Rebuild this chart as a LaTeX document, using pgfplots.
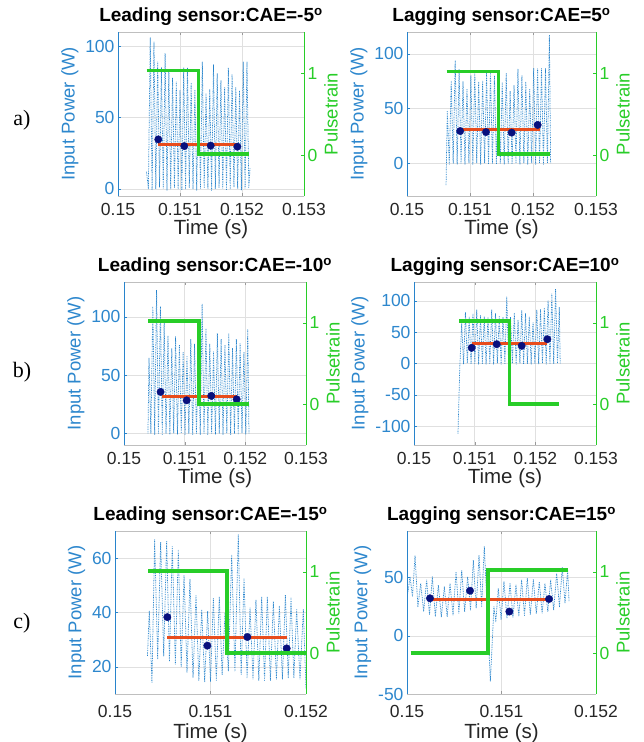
\documentclass[border=0pt]{standalone}
\usepackage{pgfplots}
\pgfplotsset{compat=1.18}
\usepackage{fontspec}
\setmainfont{Liberation Sans}
\newfontfamily\seriffont{Liberation Serif}
\definecolor{mblue}{RGB}{40,132,204}
\definecolor{mtick}{RGB}{45,135,205}
\definecolor{mgreen}{RGB}{40,205,40}
\definecolor{mred}{RGB}{232,76,28}
\definecolor{mnavy}{RGB}{8,16,125}
\definecolor{mgray}{RGB}{38,38,38}
\pgfplotsset{
  mybase/.style={
    scale only axis,
    /pgf/number format/assume math mode=true,
    tick label style={font=\fontsize{17.5}{19}\selectfont},
    ylabel style={font=\fontsize{18.5}{20}\selectfont},
    xlabel style={font=\fontsize{20.5}{22}\selectfont},
    tick align=inside, major tick length=3pt,
    scaled x ticks=false, scaled y ticks=false,
  },
  leftax/.style={mybase,
    axis y line*=left, axis x line*=box,
    x axis line style={draw=black!25},
    y axis line style={draw=mblue},
    ytick style={draw=mblue}, xtick style={draw=black!40},
    yticklabel style={text=mtick},
    xticklabel style={text=mgray, yshift=-4pt},
    ylabel style={text=mtick},
    xlabel style={text=mgray, yshift=3pt},
    ylabel={Input Power (W)}, xlabel={Time (s)},
    grid=major, major grid style={draw=black!12, line width=0.4pt},
    title style={font=\bfseries\fontsize{19}{21}\selectfont, text=black, yshift=-3pt},
  },
  rowc/.style={xticklabel style={yshift=-4pt}, xlabel style={yshift=-2pt}},
  rightax/.style={mybase,
    axis y line*=right, hide x axis,
    y axis line style={draw=mgreen},
    ytick style={draw=mgreen},
    yticklabel style={text=mgreen},
    ylabel style={text=mgreen},
    ylabel={Pulsetrain},
    ymin=-0.5, ymax=1.5, ytick={0,1},
  },
  sig/.style={color=mblue, dash pattern=on 0.8pt off 0.9pt, line width=0.75pt, line join=round, no marks},
  avg/.style={color=mred, line width=3pt, no marks},
  pts/.style={only marks, mark=*, mark size=3.7pt, color=mnavy},
  pulse/.style={color=mgreen, line width=3.6pt, no marks, line join=miter},
  xA/.style={xmin=0.15, xmax=0.153, xtick={0.15,0.151,0.152,0.153}, xticklabels={0.15,0.151,0.152,0.153}},
  xC/.style={xmin=0.15, xmax=0.152, xtick={0.15,0.151,0.152}, xticklabels={0.15,0.151,0.152}},
}
\begin{document}
\begin{tikzpicture}
\useasboundingbox (0,0) rectangle (643pt,-742pt);
\node[font=\seriffont\fontsize{22}{24}\selectfont] at (22pt,-120pt) {a)};
\node[font=\seriffont\fontsize{22}{24}\selectfont] at (22pt,-372pt) {b)};
\node[font=\seriffont\fontsize{22}{24}\selectfont] at (22pt,-623pt) {c)};

% ---------- a-left
\begin{axis}[leftax, xA, at={(118pt,-196pt)}, anchor=south west, width=186pt, height=164pt,
  ymin=-5, ymax=110, ytick={0,50,100},
  title={Leading sensor:CAE=-5\textsuperscript{o}}]
\addplot[sig] coordinates {(0.15046,12) (0.15049,0) (0.15052,106) (0.15055,-1) (0.15058,103) (0.15061,0) (0.15064,89) (0.15067,1) (0.15070,85) (0.15073,0) (0.15076,95) (0.15079,-1) (0.15082,83) (0.15085,0) (0.15088,78) (0.15091,1) (0.15094,75) (0.15097,0) (0.15100,69) (0.15103,-1) (0.15106,85) (0.15109,0) (0.15112,85) (0.15115,1) (0.15118,74) (0.15121,0) (0.15124,69) (0.15127,-1) (0.15130,81) (0.15133,0) (0.15136,89) (0.15139,1) (0.15142,67) (0.15145,0) (0.15148,70) (0.15151,-1) (0.15154,87) (0.15157,0) (0.15160,81) (0.15163,1) (0.15166,76) (0.15169,0) (0.15172,71) (0.15175,-1) (0.15178,85) (0.15181,0) (0.15184,80) (0.15187,1) (0.15190,71) (0.15193,0) (0.15196,69) (0.15199,-1) (0.15202,89) (0.15205,0) (0.15208,89) (0.15211,1) (0.15213,15)};
\addplot[avg] coordinates {(0.150645,31.3) (0.151914,31.3)};
\addplot[pts] coordinates {(0.15065,34.7) (0.151069,30) (0.151495,30.3) (0.151925,29.6)};
\end{axis}
\begin{axis}[rightax, xA, at={(118pt,-196pt)}, anchor=south west, width=186pt, height=164pt]
\addplot[pulse] coordinates {(0.15046,1.03) (0.1513,1.03) (0.1513,0.01) (0.15212,0.01)};
\end{axis}

% ---------- a-right
\begin{axis}[leftax, xA, at={(407pt,-196pt)}, anchor=south west, width=189pt, height=164pt,
  ymin=-30, ymax=120, ytick={0,50,100},
  title={Lagging sensor:CAE=5\textsuperscript{o}}]
\addplot[sig] coordinates {(0.150620,-20) (0.150640,48) (0.150671,-1) (0.150702,75) (0.150733,0) (0.150765,94) (0.150796,-1) (0.150827,86) (0.150858,0) (0.150889,75) (0.150920,-1) (0.150952,68) (0.150983,0) (0.151014,80) (0.151045,-1) (0.151076,83) (0.151107,0) (0.151138,74) (0.151169,-1) (0.151201,75) (0.151232,0) (0.151263,82) (0.151294,-1) (0.151325,83) (0.151356,0) (0.151388,80) (0.151419,-1) (0.151450,69) (0.151481,0) (0.151512,74) (0.151543,-1) (0.151575,82) (0.151606,0) (0.151637,66) (0.151668,-1) (0.151699,71) (0.151730,0) (0.151761,86) (0.151792,-1) (0.151824,80) (0.151855,0) (0.151886,74) (0.151917,-1) (0.151948,68) (0.151979,0) (0.152011,87) (0.152042,-1) (0.152073,87) (0.152104,0) (0.152135,87) (0.152166,-1) (0.152198,87) (0.152229,0) (0.152260,117) (0.152280,0)};
\addplot[avg] coordinates {(0.150841,30.6) (0.15211,30.6)};
\addplot[pts] coordinates {(0.150844,29.4) (0.151254,28.5) (0.151661,28) (0.152074,35)};
\end{axis}
\begin{axis}[rightax, xA, at={(407pt,-196pt)}, anchor=south west, width=189pt, height=164pt]
\addplot[pulse] coordinates {(0.15063,1.02) (0.15145,1.02) (0.15145,0.01) (0.15227,0.01)};
\end{axis}

% ---------- b-left
\begin{axis}[leftax, xA, at={(124pt,-445pt)}, anchor=south west, width=182pt, height=163pt,
  ymin=-10, ymax=130, ytick={0,50,100},
  title={Leading sensor:CAE=-10\textsuperscript{o}}]
\addplot[sig] coordinates {(0.150395,0) (0.150412,65) (0.150443,0) (0.150475,109) (0.150506,-1) (0.150537,123) (0.150568,0) (0.150600,109) (0.150631,-1) (0.150662,95) (0.150693,0) (0.150725,84) (0.150756,-1) (0.150788,73) (0.150819,0) (0.150850,83) (0.150881,-1) (0.150913,76) (0.150944,0) (0.150975,70) (0.151006,-1) (0.151038,66) (0.151069,0) (0.151101,81) (0.151132,-1) (0.151163,77) (0.151194,0) (0.151226,66) (0.151257,-1) (0.151288,111) (0.151319,0) (0.151351,90) (0.151382,-1) (0.151414,77) (0.151445,0) (0.151476,70) (0.151507,-1) (0.151539,86) (0.151570,0) (0.151601,81) (0.151632,-1) (0.151664,76) (0.151695,0) (0.151727,86) (0.151758,-1) (0.151789,73) (0.151820,0) (0.151852,81) (0.151883,-1) (0.151914,77) (0.151945,0) (0.151977,70) (0.152008,-1) (0.152040,89) (0.152060,0)};
\addplot[avg] coordinates {(0.150621,31.3) (0.151857,31.3)};
\addplot[pts] coordinates {(0.150603,35.6) (0.151033,28.4) (0.151439,32.2) (0.151857,29.3)};
\end{axis}
\begin{axis}[rightax, xA, at={(124pt,-445pt)}, anchor=south west, width=182pt, height=163pt]
\addplot[pulse] coordinates {(0.1504,1.02) (0.15124,1.02) (0.15124,0) (0.152065,0)};
\end{axis}

% ---------- b-right
\begin{axis}[leftax, xA, at={(414pt,-445pt)}, anchor=south west, width=182pt, height=163pt,
  ymin=-130, ymax=130, ytick={-100,-50,0,50,100},
  title={Lagging sensor:CAE=10\textsuperscript{o}}]
\addplot[sig] coordinates {(0.150725,-112) (0.150755,-5) (0.150786,64) (0.150817,-1) (0.150848,82) (0.150879,0) (0.150910,74) (0.150941,-1) (0.150972,80) (0.151003,0) (0.151034,86) (0.151065,-1) (0.151096,77) (0.151127,0) (0.151157,75) (0.151188,-1) (0.151219,73) (0.151250,0) (0.151281,86) (0.151312,-1) (0.151343,80) (0.151374,0) (0.151405,75) (0.151436,-1) (0.151467,74) (0.151498,0) (0.151529,106) (0.151560,-1) (0.151591,74) (0.151622,0) (0.151653,80) (0.151684,-1) (0.151715,69) (0.151746,0) (0.151776,85) (0.151807,-1) (0.151838,80) (0.151869,0) (0.151900,74) (0.151931,-1) (0.151962,66) (0.151993,0) (0.152024,86) (0.152055,-1) (0.152086,86) (0.152117,0) (0.152148,88) (0.152179,-1) (0.152210,100) (0.152241,0) (0.152272,111) (0.152303,-1) (0.152334,119) (0.152365,0) (0.152395,90) (0.152410,0)};
\addplot[avg] coordinates {(0.150951,31.4) (0.152187,31.4)};
\addplot[pts] coordinates {(0.150951,25) (0.151363,30.8) (0.151775,28.2) (0.152198,38.8)};
\end{axis}
\begin{axis}[rightax, xA, at={(414pt,-445pt)}, anchor=south west, width=182pt, height=163pt]
\addplot[pulse] coordinates {(0.150747,1.02) (0.151571,1.02) (0.151571,0) (0.15239,0)};
\end{axis}

% ---------- c-left
\begin{axis}[leftax, rowc, xC, at={(115pt,-694pt)}, anchor=south west, width=191pt, height=163pt,
  ymin=10, ymax=70, ytick={20,40,60},
  title={Leading sensor:CAE=-15\textsuperscript{o}}]
\addplot[sig] coordinates {(0.150340,24) (0.150359,40.5) (0.150387,14) (0.150415,66.8) (0.150447,23) (0.150478,66) (0.150510,24) (0.150541,66.4) (0.150570,22) (0.150600,64.5) (0.150632,21) (0.150663,62.9) (0.150693,20) (0.150723,53.8) (0.150754,18) (0.150785,52.3) (0.150817,16) (0.150848,46.5) (0.150878,15) (0.150908,41.1) (0.150939,14.5) (0.150970,40.5) (0.151000,14.5) (0.151030,45.3) (0.151061,15) (0.151092,45.9) (0.151122,17) (0.151152,40) (0.151187,18.5) (0.151222,61.1) (0.151256,18.5) (0.151291,68.6) (0.151321,17) (0.151351,52.6) (0.151383,16) (0.151414,41.7) (0.151445,15.5) (0.151476,44.7) (0.151506,15) (0.151536,45.9) (0.151566,15) (0.151595,45.9) (0.151627,15) (0.151658,44.1) (0.151690,15.5) (0.151721,42.3) (0.151753,15.5) (0.151784,46.5) (0.151814,16) (0.151843,45.3) (0.151873,16) (0.151902,41.1) (0.151937,15.5) (0.151972,41.1) (0.152000,12)};
\addplot[avg] coordinates {(0.150548,30.8) (0.151798,30.8)};
\addplot[pts] coordinates {(0.150548,38.3) (0.150967,27.8) (0.151386,31.0) (0.151798,26.8)};
\end{axis}
\begin{axis}[rightax, xC, at={(115pt,-694pt)}, anchor=south west, width=191pt, height=163pt]
\addplot[pulse] coordinates {(0.150349,1.01) (0.15117,1.01) (0.15117,0) (0.152,0)};
\end{axis}

% ---------- c-right
\begin{axis}[leftax, rowc, xC, at={(407pt,-694pt)}, anchor=south west, width=189pt, height=163pt,
  ymin=-50, ymax=90, ytick={-50,0,50},
  title={Lagging sensor:CAE=15\textsuperscript{o}}]
\addplot[sig] coordinates {(0.150005,35) (0.150032,50.7) (0.150058,33.6) (0.150085,69) (0.150115,25) (0.150145,45) (0.150176,20.8) (0.150208,47.9) (0.150238,17.9) (0.150268,50.7) (0.150300,16.5) (0.150332,43.6) (0.150363,16) (0.150395,42.1) (0.150425,16.5) (0.150455,45) (0.150487,17.9) (0.150519,55) (0.150549,19.4) (0.150579,56.4) (0.150610,20.8) (0.150642,50.7) (0.150672,22.2) (0.150702,65) (0.150732,23.6) (0.150762,69) (0.150790,25) (0.150818,77) (0.150882,-39) (0.150920,25) (0.150940,12) (0.150966,40.7) (0.150996,13.7) (0.151026,46.4) (0.151058,15) (0.151090,45) (0.151121,16) (0.151153,43.6) (0.151183,16.5) (0.151213,47.9) (0.151243,17.5) (0.151273,49.3) (0.151305,18) (0.151337,48.6) (0.151368,19) (0.151400,46.4) (0.151430,19.5) (0.151460,45) (0.151490,20.8) (0.151520,47.9) (0.151552,22) (0.151584,53.6) (0.151613,25) (0.151643,58.7) (0.151672,27.9) (0.151700,56.4) (0.151715,29.3)};
\addplot[avg] coordinates {(0.150243,30.8) (0.151503,30.8)};
\addplot[pts] coordinates {(0.150243,32.2) (0.150667,38.7) (0.151083,20.8) (0.151503,31.6)};
\end{axis}
\begin{axis}[rightax, xC, at={(407pt,-694pt)}, anchor=south west, width=189pt, height=163pt]
\addplot[pulse] coordinates {(0.150039,0) (0.15086,0) (0.15086,1.02) (0.151707,1.02)};
\end{axis}
\end{tikzpicture}
\end{document}
